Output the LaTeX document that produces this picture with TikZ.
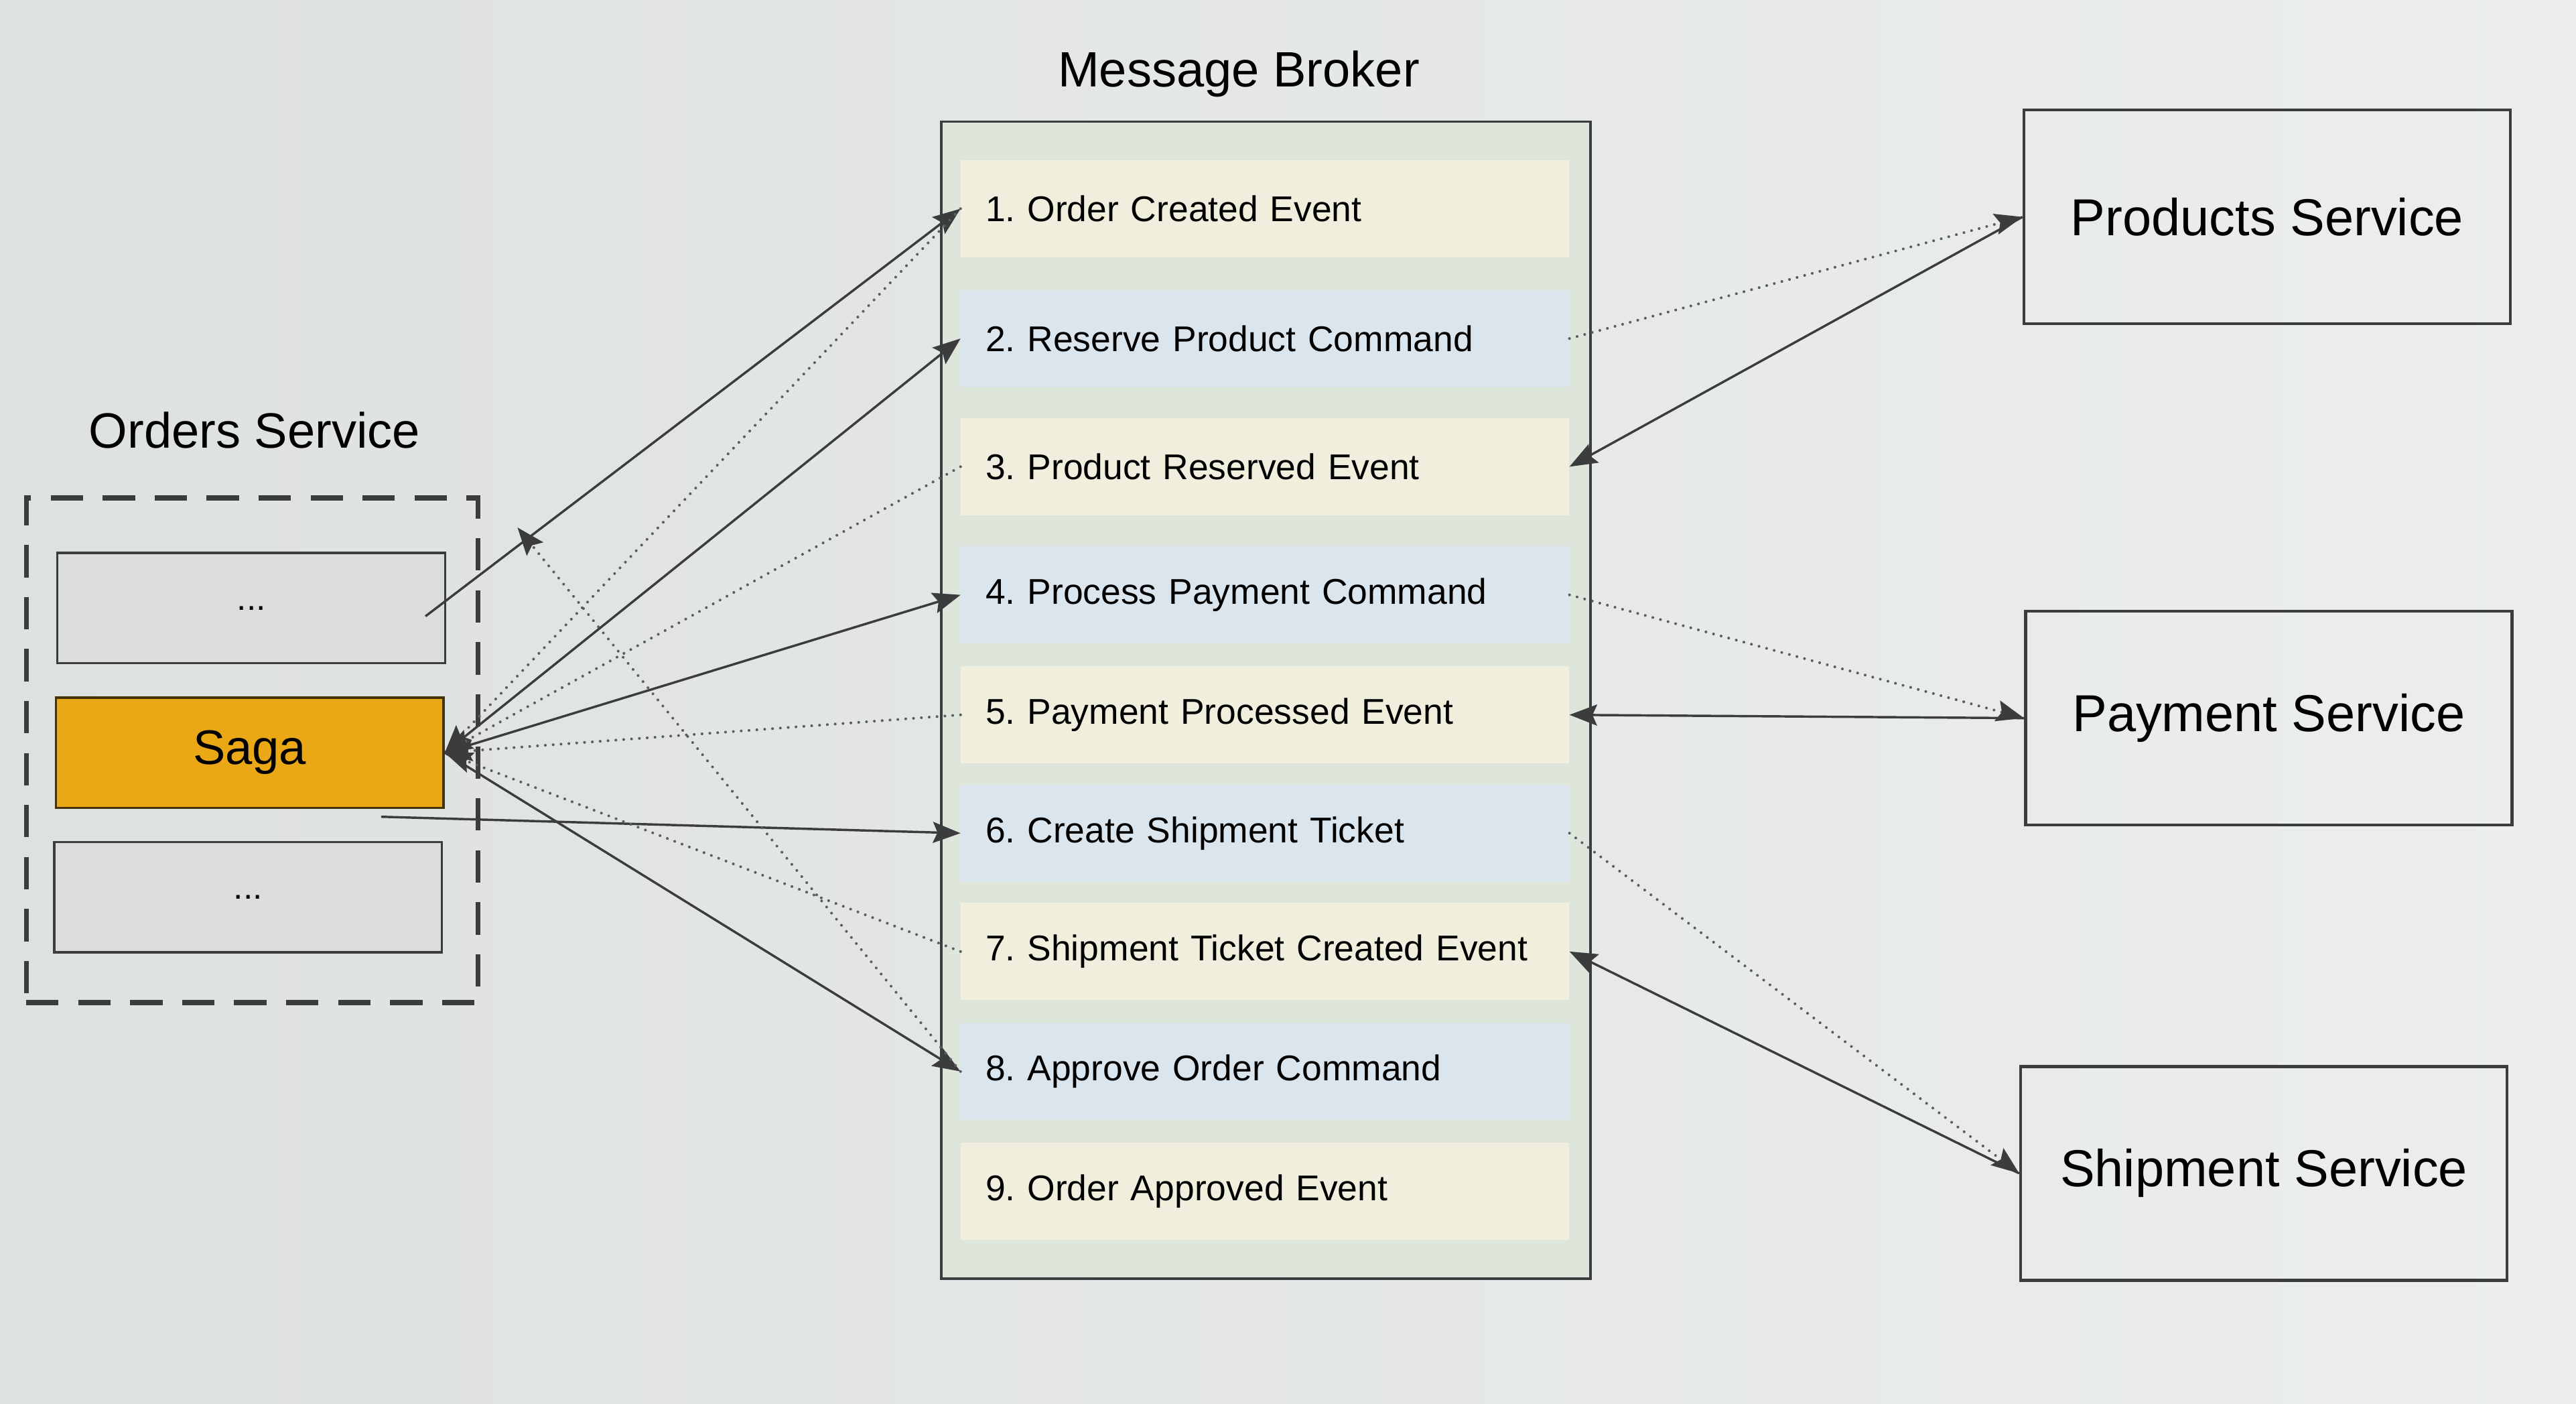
\documentclass[tikz,border=0pt]{standalone}
\usepackage{fontspec}
\setmainfont{Liberation Sans}
\usetikzlibrary{arrows.meta,positioning,calc}

\definecolor{bgleft}{RGB}{222,225,225}
\definecolor{bgright}{RGB}{236,238,238}
\definecolor{brokerfill}{RGB}{222,229,219}
\definecolor{rowbeige}{RGB}{240,239,221}
\definecolor{rowblue}{RGB}{219,229,237}
\definecolor{boxgray}{RGB}{219,220,222}
\definecolor{sagaorange}{RGB}{234,167,22}
\definecolor{edgegray}{RGB}{58,60,62}
\definecolor{dotgray}{RGB}{90,94,96}

\tikzset{
  innerbox/.style={draw=edgegray, line width=1pt, fill=boxgray, minimum width=5.9cm, minimum height=1.675cm, font=\fontsize{15}{17}\selectfont},
  sagabox/.style={innerbox, fill=sagaorange, draw=black!70!sagaorange, font=\fontsize{21}{24}\selectfont},
  brokerrow/.style={fill=#1, text width=8.5cm, inner xsep=0.375cm, minimum height=1.475cm, align=left, font=\fontsize{15.5}{18}\selectfont},
  servicebox/.style={draw=edgegray, line width=1.3pt, minimum width=7.4cm, minimum height=3.25cm, font=\fontsize{22.5}{26}\selectfont},
  grouplabel/.style={font=\fontsize{21.5}{25}\selectfont},
  sends/.style={-{Stealth[length=0.42cm, width=0.32cm, inset=0.07cm, color=edgegray]}, line width=1pt, draw=edgegray},
  listens/.style={sends, draw=dotgray, line cap=round, dash pattern=on 0pt off 3.4pt, line width=1.2pt},
}

\begin{document}
\frenchspacing
\begin{tikzpicture}[x=0.025cm, y=-0.025cm]
    % screen background
    \shade[left color=bgleft, right color=bgright] (0,0) rectangle (1568,854);
    \useasboundingbox (0,0) rectangle (1568,854);

    % orders service
    \node[grouplabel] (orderslabel) at (155,262) {Orders Service};
    \node[draw=edgegray, line width=2.1pt, dash pattern=on 14pt off 8.5pt, minimum width=6.875cm, minimum height=7.675cm] (orders) at (153.5,456.5) {};
    \node[innerbox] (topdots) at (153,370) {...};
    \node[sagabox] (saga) at (152,458) {Saga};
    \node[innerbox] (bottomdots) at (151,546) {...};

    % message broker
    \node[grouplabel] (brokerlabel) at (754,45) {Message Broker};
    \node[draw=edgegray, line width=1pt, fill=brokerfill, minimum width=9.875cm, minimum height=17.6cm] (broker) at (770.5,426) {};
    \node[brokerrow=rowbeige] (ev1) at (770,127) {1. Order Created Event};
    \node[brokerrow=rowblue] (ev2) at (770,206) {2. Reserve Product Command};
    \node[brokerrow=rowbeige] (ev3) at (770,284) {3. Product Reserved Event};
    \node[brokerrow=rowblue] (ev4) at (770,362) {4. Process Payment Command};
    \node[brokerrow=rowbeige] (ev5) at (770,435) {5. Payment Processed Event};
    \node[brokerrow=rowblue] (ev6) at (770,507) {6. Create Shipment Ticket};
    \node[brokerrow=rowbeige] (ev7) at (770,579) {7. Shipment Ticket Created Event};
    \node[brokerrow=rowblue] (ev8) at (770,652) {8. Approve Order Command};
    \node[brokerrow=rowbeige] (ev9) at (770,725) {9. Order Approved Event};

    % services
    \node[servicebox] (products) at (1380,132) {Products Service};
    \node[servicebox] (payment) at (1381,437) {Payment Service};
    \node[servicebox] (shipment) at (1378,714) {Shipment Service};

    \coordinate (topdotsout) at (259,375);
    \coordinate (sagaout) at (232,497);
    \coordinate (approvein) at (315,321);

    % orders service <-> broker
    \draw[sends] (topdotsout) -- (ev1.west);
    \draw[listens] (ev1.west) -- (saga.east);
    \draw[sends] (saga.east) -- (ev2.west);
    \draw[listens] (ev3.west) -- (saga.east);
    \draw[sends] (saga.east) -- (ev4.west);
    \draw[listens] (ev5.west) -- (saga.east);
    \draw[sends] (sagaout) -- (ev6.west);
    \draw[listens] (ev7.west) -- (saga.east);
    \draw[sends] (saga.east) -- (ev8.west);
    \draw[listens] (ev8.west) -- (approvein);

    % broker <-> services
    \draw[listens] (ev2.east) -- (products.west);
    \draw[sends] (products.west) -- (ev3.east);
    \draw[listens] (ev4.east) -- (payment.west);
    \draw[sends] (payment.west) -- (ev5.east);
    \draw[listens] (ev6.east) -- (shipment.west);
    \draw[sends] (shipment.west) -- (ev7.east);
\end{tikzpicture}
\end{document}
